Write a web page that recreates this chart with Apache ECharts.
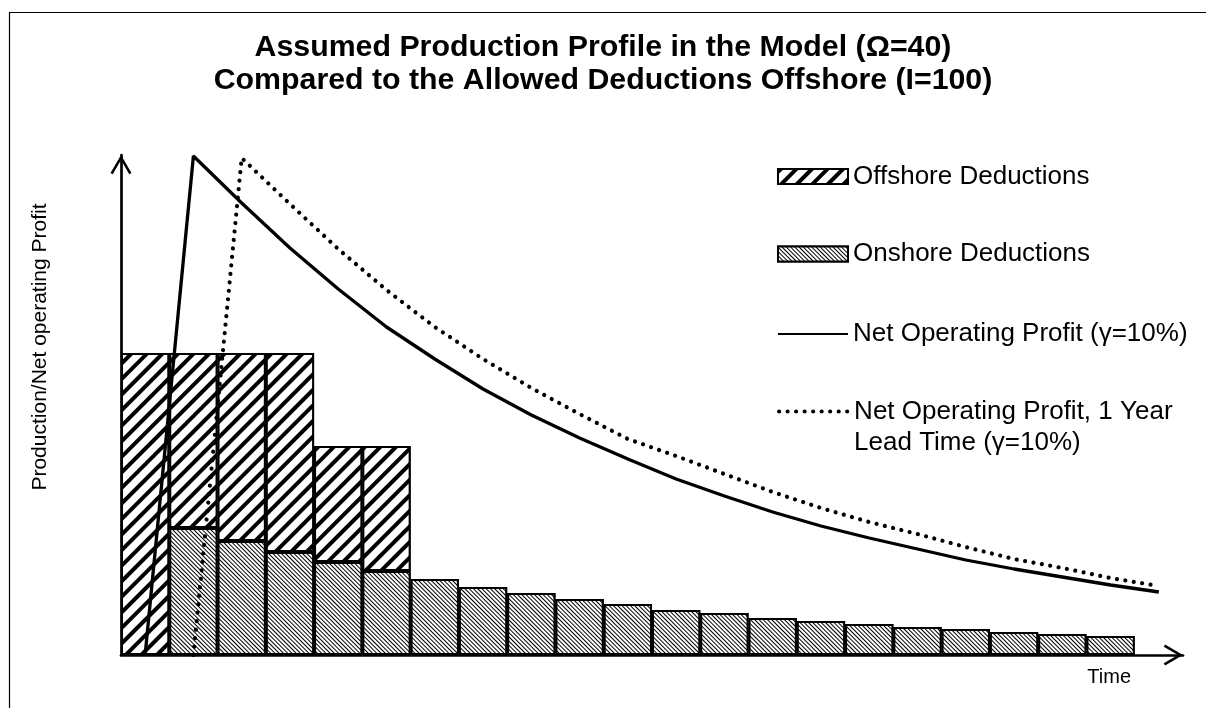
<!DOCTYPE html>
<html>
<head>
<meta charset="utf-8">
<script src="https://cdn.jsdelivr.net/npm/echarts@6/dist/echarts.min.js"></script>
<style>
  html, body { margin: 0; padding: 0; background: #fff; }
  #chart { width: 1206px; height: 708px; }
</style>
</head>
<body>
<div id="chart"></div>
<script>
// 年份（柱子）
var years = ['1', '2', '3', '4', '5', '6', '7', '8', '9', '10', '11', '12', '13', '14', '15', '16', '17', '18', '19', '20', '21', '22']
// 柱子高度 (读图估计, 任意单位)
var onshore = [0, 127, 114, 103, 93, 84, 76, 68, 62, 56, 51, 45, 42, 37, 34, 31, 28, 26, 23, 21, 19]
var offshore = [302, 175, 188, 199, 116, 125]
// 曲线：横坐标（年）和纵坐标
var profitTime = [0.5, 1.5, 2.5, 3.5, 4.5, 5.5, 6.5, 7.5, 8.5, 9.5, 10.5, 11.5, 12.5, 13.5, 14.5, 15.5, 16.5, 17.5, 18.5, 19.5, 20.5, 21.5]
var profit = [0, 499, 452, 407, 366, 328, 296, 266, 240, 217, 196, 176, 159, 143, 129, 117, 106, 95, 86, 78, 70, 63]
var leadTime = [1.5, 2.5, 3.5, 4.5, 5.5, 6.5, 7.5, 8.5, 9.5, 10.5, 11.5, 12.5, 13.5, 14.5, 15.5, 16.5, 17.5, 18.5, 19.5, 20.5, 21.5]
var leadProfit = [0, 497, 451, 406, 365, 328, 296, 267, 241, 216, 199, 181, 163, 147, 133, 121, 108, 96, 87, 77, 69]

var font = '"Liberation Sans", Arial, sans-serif'
// 开口箭头
var chevron = 'path://M10.5,0 L21,18 L18.75,19.3 L10.5,5.15 L2.25,19.3 L0,18 Z'
var dotted = { color: '#000', width: 4.2, type: [0.01, 8.5], cap: 'round' }

function zip (xs, ys) {
  return xs.map(function (x, i) { return [x, ys[i]] })
}

var mychart = echarts.init(document.getElementById('chart'))

function legendBox (name, top, more) {
  var lg = {
    data: [name],
    left: 777,
    top: top,
    orient: 'vertical',
    padding: 0,
    itemWidth: 70,
    itemHeight: 15,
    selectedMode: false,
    textStyle: { fontFamily: font, fontSize: 26, lineHeight: 31, color: '#000' }
  }
  if (more) {
    Object.keys(more).forEach(function (k) { lg[k] = more[k] })
  }
  return lg
}

var option = {
  animation: false,
  backgroundColor: '#fff',
  title: {
    text: 'Assumed Production Profile in the Model (Ω=40)\nCompared to the Allowed Deductions Offshore (I=100)',
    left: 'center',
    top: 31,
    padding: 0,
    textStyle: { fontFamily: font, fontSize: 30.3, fontWeight: 'bold', lineHeight: 33, color: '#000' }
  },
  legend: [
    legendBox('Offshore Deductions', 161, { icon: 'rect' }),
    legendBox('Onshore Deductions', 238.5, { icon: 'rect' }),
    legendBox('Net Operating Profit (γ=10%)', 318.5, { itemStyle: { opacity: 0 } }),
    legendBox('Net Operating Profit, 1 Year\nLead Time (γ=10%)', 365, {
      itemStyle: { opacity: 0 },
      lineStyle: dotted,
      // 空行让图例线对齐第一行文字
      formatter: function (name) { return '\n' + name }
    })
  ],
  grid: { left: 121, right: 23, top: 155, bottom: 53, containLabel: false },
  xAxis: [
    {
      type: 'category',
      data: years,
      boundaryGap: true,
      name: 'Time',
      nameLocation: 'end',
      nameGap: -52,
      nameTextStyle: { fontFamily: font, fontSize: 20, color: '#000', align: 'right', verticalAlign: 'top', padding: [12, 0, 0, 0] },
      axisLine: {
        onZero: false,
        symbol: ['none', chevron],
        symbolSize: [21, 19.3],
        symbolOffset: [0, -9.6],
        lineStyle: { color: '#000', width: 2.7 }
      },
      axisTick: { show: false },
      axisLabel: { show: false },
      splitLine: { show: false }
    },
    {
      type: 'value',
      min: 0,
      max: 22,
      show: false
    }
  ],
  yAxis: {
    type: 'value',
    min: 0,
    max: 500,
    axisLine: {
      show: true,
      onZero: false,
      symbol: ['none', chevron],
      symbolSize: [21, 19.3],
      symbolOffset: [0, -9.6],
      lineStyle: { color: '#000', width: 2.7 }
    },
    axisTick: { show: false },
    axisLabel: { show: false },
    splitLine: { show: false }
  },
  graphic: [
    {
      type: 'rect',
      shape: { x: 9.5, y: 12.5, width: 1400, height: 900 },
      style: { fill: 'none', stroke: '#000', lineWidth: 1.2 },
      silent: true,
      z: -1
    },
    {
      type: 'text',
      x: 40,
      y: 347,
      rotation: Math.PI / 2,
      style: {
        text: 'Production/Net operating Profit',
        font: '21px ' + font,
        fill: '#000',
        align: 'center',
        verticalAlign: 'middle'
      }
    }
  ],
  series: [
    {
      name: 'Onshore Deductions',
      type: 'bar',
      stack: 'ded',
      barCategoryGap: '0%',
      data: onshore,
      itemStyle: {
        color: '#fff',
        borderColor: '#000',
        borderWidth: 2,
        decal: {
          symbol: 'rect',
          symbolSize: 1,
          color: '#000',
          backgroundColor: '#fff',
          dashArrayX: [1, 0],
          dashArrayY: [1, 2],
          rotation: Math.PI / 4
        }
      }
    },
    {
      name: 'Offshore Deductions',
      type: 'bar',
      stack: 'ded',
      barCategoryGap: '0%',
      data: offshore,
      itemStyle: {
        color: '#fff',
        borderColor: '#000',
        borderWidth: 2,
        decal: {
          symbol: 'rect',
          symbolSize: 1,
          color: '#000',
          backgroundColor: '#fff',
          dashArrayX: [1, 0],
          dashArrayY: [4, 7],
          rotation: -Math.PI / 4
        }
      }
    },
    {
      name: 'Net Operating Profit (γ=10%)',
      type: 'line',
      xAxisIndex: 1,
      data: zip(profitTime, profit),
      symbol: 'none',
      clip: false,
      z: 5,
      itemStyle: { color: '#000' },
      lineStyle: { color: '#000', width: 3.3 }
    },
    {
      name: 'Net Operating Profit, 1 Year\nLead Time (γ=10%)',
      type: 'line',
      xAxisIndex: 1,
      data: zip(leadTime, leadProfit),
      symbol: 'none',
      clip: false,
      z: 5,
      itemStyle: { color: '#000' },
      lineStyle: dotted
    }
  ]
}
mychart.setOption(option)
</script>
</body>
</html>
